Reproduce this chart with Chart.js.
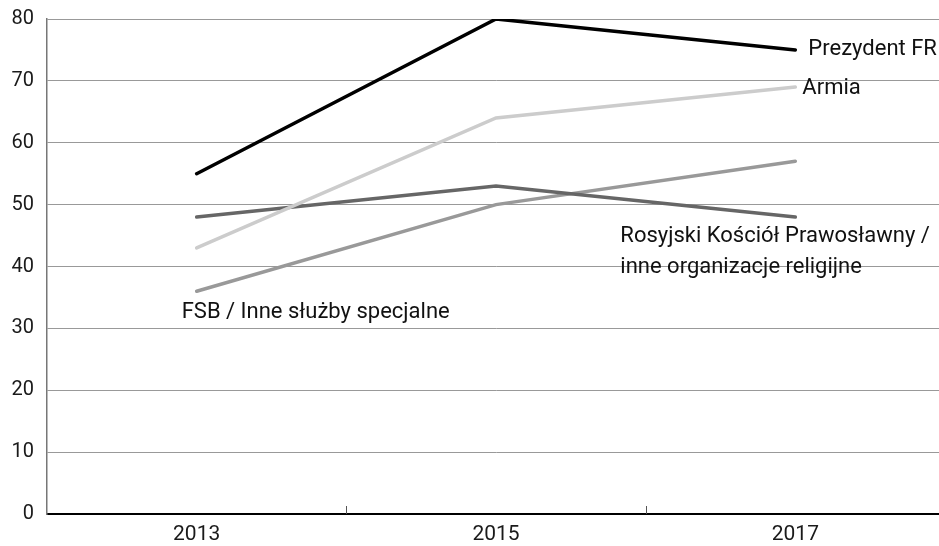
<!DOCTYPE html>
<html>
<head>
<meta charset="utf-8">
<script src="https://cdn.jsdelivr.net/npm/chart.js@4"></script>
<style>
  html, body { margin: 0; padding: 0; background: #fff; overflow: hidden; }
  #wrap { width: 945px; height: 546px; position: relative; }
</style>
</head>
<body>
<div id="wrap"><canvas id="chart"></canvas></div>
<script>
// Data
const years = ['2013', '2015', '2017'];
const prezydent = [55, 80, 75];
const armia = [43, 64, 69];
const cerkiew = [48, 53, 48];
const fsb = [36, 50, 57];
const yTicks = [0, 10, 20, 30, 40, 50, 60, 70, 80];

// Series names drawn as text labels next to the lines
const seriesNames = [
  'Prezydent FR',
  'Armia',
  ['Rosyjski Kościół Prawosławny /', 'inne organizacje religijne'],
  'FSB / Inne służby specjalne',
];

const labelFont = '22px Roboto, "Liberation Sans", sans-serif';

// where each label sits relative to one point of its line
const labelSpots = [
  { point: 2, dx: 13, dy: 0 },
  { point: 2, dx: 7, dy: 1 },
  { point: 2, dx: -175, dy: 19 },
  { point: 0, dx: -15, dy: 21 },
];

const seriesLabels = {
  id: 'seriesLabels',
  afterDatasetsDraw(chart) {
    const ctx = chart.ctx;
    ctx.save();
    ctx.font = labelFont;
    ctx.fillStyle = '#111';
    ctx.textBaseline = 'middle';
    ctx.textAlign = 'left';
    chart.data.datasets.forEach((ds, i) => {
      const spot = labelSpots[i];
      const el = chart.getDatasetMeta(i).data[spot.point];
      const lines = [].concat(seriesNames[i]);
      lines.forEach((t, k) => {
        ctx.fillText(t, el.x + spot.dx, el.y + spot.dy + k * 31);
      });
    });
    ctx.restore();
  }
};

// small upward tick marks between the categories
const innerTicks = {
  id: 'innerTicks',
  afterDraw(chart) {
    const x = chart.scales.x;
    const area = chart.chartArea;
    const ctx = chart.ctx;
    const step = (x.right - x.left) / years.length;
    ctx.save();
    ctx.strokeStyle = '#555';
    ctx.lineWidth = 1;
    for (let i = 1; i < years.length; i++) {
      const px = Math.round(x.left + step * i) + 0.5;
      ctx.beginPath();
      ctx.moveTo(px, area.bottom - 8);
      ctx.lineTo(px, area.bottom);
      ctx.stroke();
    }
    ctx.restore();
  }
};

const mk = (data, color) => ({
  data, borderColor: color, borderWidth: 3.5, pointRadius: 0, tension: 0, fill: false,
  borderCapStyle: 'round'
});

new Chart(document.getElementById('chart'), {
  type: 'line',
  data: {
    labels: years,
    datasets: [
      mk(prezydent, '#000000'),
      mk(armia, '#cccccc'),
      mk(cerkiew, '#666666'),
      mk(fsb, '#999999'),
    ],
  },
  options: {
    responsive: true,
    maintainAspectRatio: false,
    animation: false,
    layout: { padding: { top: 19, right: 0, left: 0, bottom: 0 } },
    plugins: { legend: { display: false }, tooltip: { enabled: false } },
    scales: {
      x: {
        offset: true,
        grid: { display: false, drawTicks: false },
        border: { color: '#000', width: 2 },
        ticks: { color: '#1a1a1a', font: { family: 'Roboto, sans-serif', size: 21 }, padding: 8 },
        afterFit(s) { s.height = 32; s.paddingLeft = 0; s.paddingRight = 0; },
      },
      y: {
        min: 0, max: 80,
        afterBuildTicks(s) { s.ticks = yTicks.map(v => ({ value: v })); },
        grid: { color: '#999', lineWidth: 1, drawTicks: false },
        border: { color: '#777', width: 1.5 },
        ticks: { color: '#1a1a1a', font: { family: 'Roboto, sans-serif', size: 20 }, padding: 13 },
        afterFit(s) { s.width = 47; s.paddingTop = 0; s.paddingBottom = 0; },
      },
    },
  },
  plugins: [seriesLabels, innerTicks],
});
</script>
</body>
</html>
